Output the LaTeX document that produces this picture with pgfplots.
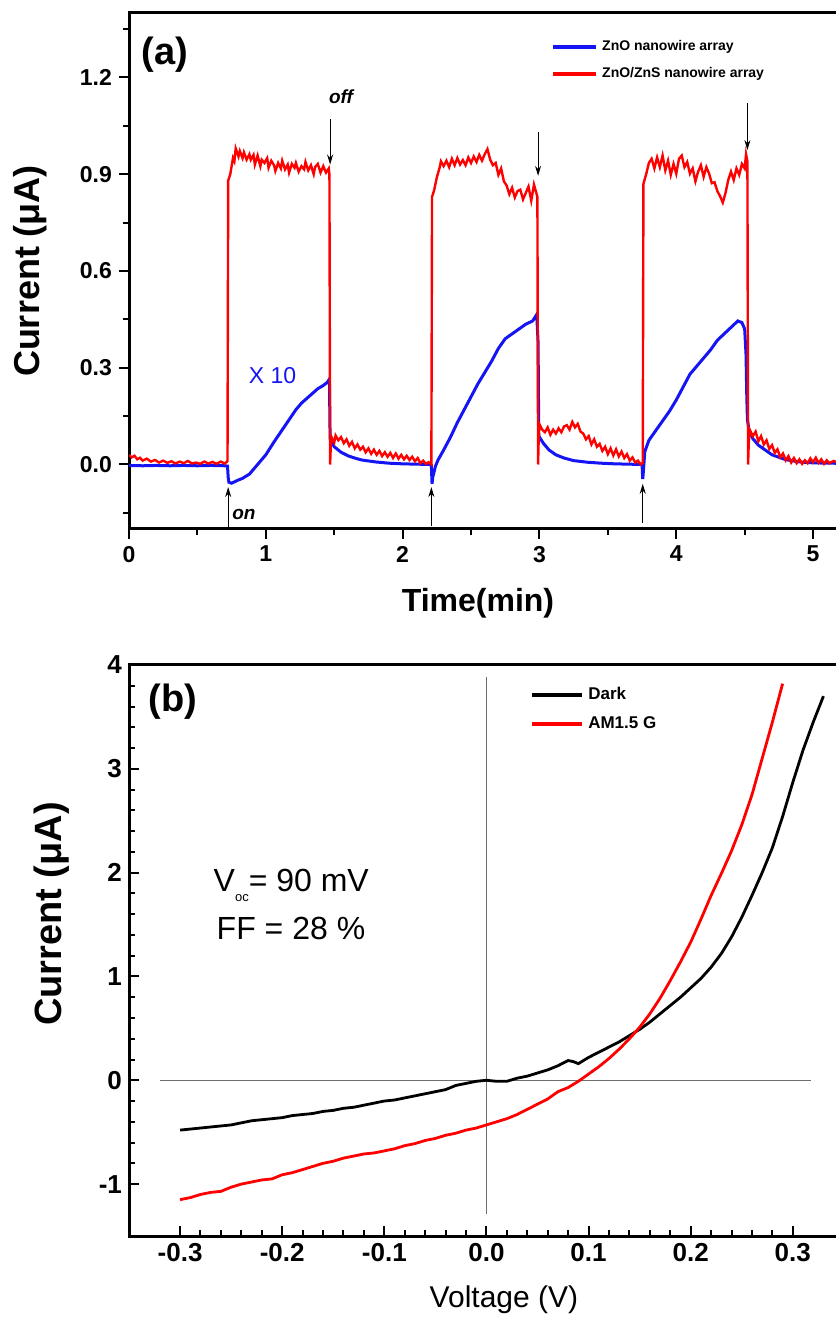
\documentclass[border=0pt]{standalone}
\usepackage{fontspec}
\setmainfont{Liberation Sans}
\usepackage{pgfplots}
\pgfplotsset{compat=1.18}
\usetikzlibrary{arrows.meta}
\definecolor{cred}{RGB}{255,0,0}
\definecolor{cblue}{RGB}{20,20,245}
\definecolor{cgray}{RGB}{110,110,110}

\pgfplotstableread{
t I
0.00 0.030
0.02 0.022
0.04 0.027
0.06 0.016
0.08 0.021
0.10 0.012
0.13 0.018
0.16 0.009
0.19 0.014
0.22 0.006
0.25 0.012
0.28 0.005
0.31 0.010
0.34 0.003
0.37 0.009
0.40 0.004
0.43 0.011
0.46 0.003
0.49 0.006
0.52 0.002
0.55 0.009
0.58 0.003
0.61 0.008
0.64 0.002
0.67 0.009
0.70 0.003
0.72 0.010
0.725 0.880
0.74 0.900
0.76 0.950
0.77 0.940
0.78 0.980
0.80 0.955
0.81 0.972
0.83 0.950
0.84 0.968
0.86 0.945
0.88 0.962
0.89 0.945
0.91 0.960
0.92 0.930
0.94 0.958
0.96 0.925
0.97 0.945
0.99 0.935
1.01 0.950
1.02 0.920
1.04 0.942
1.06 0.928
1.07 0.910
1.09 0.935
1.11 0.918
1.12 0.942
1.14 0.915
1.16 0.930
1.17 0.905
1.19 0.932
1.21 0.920
1.22 0.935
1.24 0.908
1.26 0.925
1.28 0.915
1.29 0.938
1.31 0.912
1.33 0.928
1.35 0.900
1.36 0.922
1.38 0.932
1.40 0.905
1.42 0.925
1.44 0.905
1.46 0.918
1.465 0.900
1.47 0.000
1.475 0.060
1.48 0.085
1.50 0.068
1.51 0.090
1.53 0.075
1.55 0.085
1.57 0.066
1.59 0.078
1.61 0.058
1.63 0.070
1.65 0.050
1.67 0.062
1.69 0.046
1.71 0.055
1.73 0.038
1.75 0.050
1.77 0.033
1.79 0.046
1.81 0.030
1.83 0.042
1.85 0.026
1.87 0.038
1.89 0.024
1.91 0.036
1.93 0.020
1.95 0.034
1.97 0.018
1.99 0.030
2.01 0.016
2.03 0.027
2.05 0.014
2.07 0.024
2.09 0.010
2.11 0.020
2.13 0.004
2.15 0.012
2.17 0.002
2.19 0.007
2.21 0.000
2.215 0.830
2.23 0.850
2.25 0.890
2.27 0.920
2.28 0.940
2.30 0.925
2.32 0.942
2.34 0.922
2.36 0.948
2.38 0.928
2.40 0.950
2.42 0.930
2.44 0.944
2.46 0.928
2.48 0.952
2.50 0.935
2.52 0.955
2.54 0.938
2.56 0.960
2.58 0.942
2.60 0.962
2.62 0.978
2.64 0.945
2.66 0.928
2.68 0.935
2.70 0.898
2.72 0.918
2.74 0.878
2.76 0.865
2.78 0.838
2.80 0.858
2.82 0.828
2.84 0.848
2.86 0.852
2.88 0.822
2.90 0.842
2.92 0.862
2.94 0.818
2.96 0.868
2.985 0.830
2.99 0.000
2.995 0.090
3.00 0.125
3.02 0.108
3.04 0.100
3.06 0.115
3.08 0.092
3.10 0.108
3.12 0.096
3.14 0.112
3.16 0.100
3.18 0.118
3.20 0.122
3.22 0.108
3.24 0.132
3.26 0.115
3.28 0.126
3.30 0.102
3.32 0.096
3.34 0.078
3.36 0.088
3.38 0.062
3.40 0.078
3.42 0.055
3.44 0.064
3.46 0.042
3.48 0.055
3.50 0.032
3.52 0.050
3.54 0.028
3.56 0.047
3.58 0.025
3.60 0.040
3.62 0.020
3.64 0.032
3.66 0.012
3.68 0.022
3.70 0.006
3.72 0.012
3.74 0.000
3.755 0.005
3.76 0.870
3.78 0.900
3.80 0.935
3.82 0.948
3.84 0.918
3.86 0.952
3.88 0.922
3.90 0.958
3.92 0.912
3.94 0.942
3.96 0.898
3.98 0.932
4.00 0.902
4.02 0.948
4.04 0.958
4.06 0.922
4.08 0.938
4.10 0.902
4.12 0.918
4.14 0.878
4.16 0.908
4.18 0.928
4.20 0.892
4.22 0.922
4.24 0.902
4.26 0.872
4.28 0.875
4.30 0.848
4.32 0.832
4.34 0.812
4.36 0.842
4.38 0.882
4.40 0.908
4.42 0.882
4.44 0.918
4.46 0.898
4.48 0.932
4.50 0.918
4.51 0.962
4.52 0.940
4.525 0.000
4.53 0.070
4.54 0.105
4.56 0.088
4.58 0.102
4.60 0.072
4.62 0.088
4.64 0.062
4.66 0.075
4.68 0.048
4.70 0.060
4.72 0.036
4.74 0.047
4.76 0.022
4.78 0.034
4.80 0.013
4.82 0.026
4.84 0.006
4.86 0.020
4.88 0.004
4.90 0.016
4.92 0.002
4.94 0.013
4.96 0.004
4.98 0.019
5.00 0.007
5.02 0.021
5.04 0.005
5.06 0.016
5.08 0.002
5.10 0.013
5.12 0.004
5.15 0.011
5.20 0.003
5.27 0.008
}\redA

\pgfplotstableread{
t I
0.00 -0.003
0.10 -0.004
0.20 -0.003
0.30 -0.004
0.40 -0.003
0.50 -0.004
0.60 -0.003
0.70 -0.004
0.72 -0.005
0.725 -0.040
0.73 -0.055
0.75 -0.058
0.78 -0.052
0.80 -0.048
0.83 -0.043
0.86 -0.035
0.88 -0.030
0.90 -0.020
0.93 -0.005
0.96 0.010
1.00 0.030
1.03 0.050
1.06 0.070
1.10 0.095
1.14 0.120
1.18 0.145
1.22 0.170
1.26 0.190
1.30 0.205
1.34 0.220
1.38 0.235
1.42 0.245
1.45 0.255
1.465 0.265
1.47 0.080
1.48 0.070
1.50 0.055
1.55 0.038
1.60 0.027
1.65 0.020
1.70 0.014
1.80 0.008
1.90 0.004
2.00 0.002
2.10 0.001
2.20 0.000
2.21 -0.003
2.215 -0.060
2.22 -0.040
2.24 -0.005
2.26 0.015
2.30 0.045
2.35 0.085
2.40 0.130
2.45 0.170
2.50 0.210
2.55 0.250
2.60 0.285
2.65 0.320
2.70 0.360
2.75 0.390
2.80 0.405
2.85 0.420
2.90 0.435
2.95 0.445
2.98 0.465
2.99 0.380
2.995 0.090
3.00 0.085
3.03 0.065
3.07 0.045
3.12 0.030
3.18 0.020
3.25 0.012
3.35 0.007
3.45 0.004
3.55 0.002
3.65 0.001
3.75 0.000
3.755 -0.045
3.76 -0.020
3.77 0.040
3.80 0.075
3.85 0.105
3.90 0.135
3.95 0.165
4.00 0.200
4.05 0.240
4.10 0.280
4.15 0.305
4.20 0.330
4.25 0.355
4.30 0.385
4.35 0.405
4.40 0.425
4.45 0.445
4.48 0.440
4.50 0.420
4.51 0.340
4.515 0.220
4.52 0.140
4.53 0.110
4.56 0.080
4.60 0.060
4.65 0.045
4.70 0.030
4.80 0.015
4.90 0.008
5.00 0.005
5.27 0.003
}\blueA

\pgfplotstableread{
V I
-0.300 -0.48
-0.29 -0.47
-0.28 -0.46
-0.27 -0.45
-0.26 -0.44
-0.25 -0.43
-0.24 -0.41
-0.23 -0.39
-0.22 -0.38
-0.21 -0.37
-0.20 -0.36
-0.19 -0.34
-0.18 -0.33
-0.17 -0.32
-0.16 -0.30
-0.15 -0.29
-0.14 -0.27
-0.13 -0.26
-0.12 -0.24
-0.11 -0.22
-0.10 -0.20
-0.09 -0.19
-0.08 -0.17
-0.07 -0.15
-0.06 -0.13
-0.05 -0.11
-0.04 -0.09
-0.03 -0.05
-0.02 -0.03
-0.01 -0.01
0.00 0.00
0.01 -0.01
0.02 -0.01
0.03 0.02
0.04 0.04
0.05 0.07
0.06 0.10
0.07 0.14
0.08 0.19
0.085 0.18
0.09 0.16
0.10 0.22
0.11 0.27
0.12 0.32
0.13 0.37
0.14 0.43
0.15 0.49
0.16 0.56
0.17 0.64
0.18 0.72
0.19 0.80
0.20 0.89
0.21 0.98
0.22 1.09
0.23 1.22
0.24 1.38
0.25 1.57
0.26 1.78
0.27 2.00
0.28 2.24
0.29 2.54
0.30 2.87
0.31 3.18
0.32 3.45
0.33 3.70
}\darkB

\pgfplotstableread{
V I
-0.300 -1.15
-0.29 -1.13
-0.28 -1.10
-0.27 -1.08
-0.26 -1.07
-0.25 -1.03
-0.24 -1.00
-0.23 -0.98
-0.22 -0.96
-0.21 -0.95
-0.20 -0.91
-0.19 -0.89
-0.18 -0.86
-0.17 -0.83
-0.16 -0.80
-0.15 -0.78
-0.14 -0.75
-0.13 -0.73
-0.12 -0.71
-0.11 -0.70
-0.10 -0.68
-0.09 -0.66
-0.08 -0.63
-0.07 -0.61
-0.06 -0.58
-0.05 -0.56
-0.04 -0.53
-0.03 -0.51
-0.02 -0.48
-0.01 -0.46
0.00 -0.43
0.01 -0.40
0.02 -0.37
0.03 -0.33
0.04 -0.28
0.05 -0.23
0.06 -0.18
0.07 -0.11
0.08 -0.07
0.09 -0.01
0.10 0.06
0.11 0.13
0.12 0.21
0.13 0.30
0.14 0.40
0.15 0.51
0.16 0.64
0.17 0.79
0.18 0.96
0.19 1.14
0.20 1.33
0.21 1.55
0.22 1.78
0.23 1.99
0.24 2.21
0.25 2.46
0.26 2.75
0.27 3.10
0.28 3.45
0.29 3.82
}\lightB

\begin{document}
\begin{tikzpicture}
\pgfplotsset{
  common/.style={
    scale only axis,
    separate axis lines,
    axis line style={line width=1.5pt, line cap=rect},
    every tick/.style={black, line width=1pt},
    major tick length=5pt, minor tick length=3pt,
    xtick pos=bottom, ytick pos=left,
    /pgf/number format/assume math mode=true,
    legend cell align=left,
    clip=true,
  }
}
% ---------------- panel (a)
\begin{axis}[common,
  at={(64.5pt,395.5pt)}, anchor=south west,
  width=360.5pt, height=258pt,
  xmin=0, xmax=5.27, ymin=-0.2, ymax=1.4,
  tick align=outside,
  xtick={0,1,2,3,4,5}, minor xtick={0.5,1.5,2.5,3.5,4.5},
  ytick={0,0.3,0.6,0.9,1.2}, minor ytick={-0.15,0.15,0.45,0.75,1.05,1.35},
  ticklabel style={font=\bfseries\fontsize{11.5}{12}\selectfont},
  yticklabel style={/pgf/number format/.cd, fixed, fixed zerofill, precision=1},
  xlabel={Time(min)}, ylabel={Current (μA)},
  xlabel style={font=\bfseries\fontsize{16}{18}\selectfont, at={(axis description cs:0.484,-0.143)}, anchor=center},
  ylabel style={font=\bfseries\fontsize{18}{20}\selectfont, at={(axis description cs:-0.137,0.5)}, anchor=center},
  legend style={draw=none, fill=none, at={(axis description cs:0.585,0.955)}, anchor=north west,
     inner sep=0pt, font=\bfseries\fontsize{7}{8}\selectfont, row sep=3pt},
  legend image code/.code={\draw[#1, line width=2pt] (0pt,0pt) -- (21.5pt,0pt);},
]
\addplot[cblue, line width=1.5pt] table[x=t, y=I] {\blueA};
\addlegendentry{ZnO nanowire array}
\addplot[cred, line width=1.2pt] table[x=t, y=I] {\redA};
\addlegendentry{ZnO/ZnS nanowire array}
% arrows
\draw[-{Stealth[length=5pt,width=3pt]}, line width=0.5pt] (axis cs:1.47,1.07) -- (axis cs:1.47,0.93);
\draw[-{Stealth[length=5pt,width=3pt]}, line width=0.5pt] (axis cs:2.99,1.03) -- (axis cs:2.99,0.895);
\draw[-{Stealth[length=5pt,width=3pt]}, line width=0.5pt] (axis cs:4.52,1.12) -- (axis cs:4.52,0.975);
\draw[-{Stealth[length=5pt,width=3pt]}, line width=0.5pt] (axis cs:0.725,-0.2) -- (axis cs:0.725,-0.07);
\draw[-{Stealth[length=5pt,width=3pt]}, line width=0.5pt] (axis cs:2.21,-0.19) -- (axis cs:2.21,-0.07);
\draw[-{Stealth[length=5pt,width=3pt]}, line width=0.5pt] (axis cs:3.755,-0.18) -- (axis cs:3.755,-0.06);
\node[font=\bfseries\itshape\fontsize{9.5}{10}\selectfont] at (axis cs:1.55,1.14) {off};
\node[font=\bfseries\itshape\fontsize{9.5}{10}\selectfont] at (axis cs:0.84,-0.155) {on};
\node[text=cblue, font=\fontsize{11.5}{12}\selectfont] at (axis cs:1.05,0.277) {X 10};
\node[font=\bfseries\fontsize{19}{20}\selectfont] at (axis description cs:0.05,0.919) {(a)};
\end{axis}
% ---------------- panel (b)
\begin{axis}[common,
  at={(64.5pt,42pt)}, anchor=south west,
  width=360.5pt, height=285.5pt,
  xmin=-0.35, xmax=0.356, ymin=-1.5, ymax=4,
  tick align=inside,
  xtick={-0.3,-0.2,-0.1,0,0.1,0.2,0.3}, minor x tick num=4,
  ytick={-1,0,1,2,3,4}, minor y tick num=4,
  ticklabel style={font=\bfseries\fontsize{13}{14}\selectfont},
  xticklabel style={/pgf/number format/.cd, fixed, fixed zerofill, precision=1},
  xlabel={Voltage (V)}, ylabel={Current (μA)},
  xlabel style={font=\fontsize{15}{17}\selectfont, at={(axis description cs:0.52,-0.112)}, anchor=center},
  ylabel style={font=\bfseries\fontsize{19}{21}\selectfont, at={(axis description cs:-0.107,0.564)}, anchor=center},
  legend style={draw=none, fill=none, at={(axis description cs:0.556,0.968)}, anchor=north west,
     inner sep=0pt, font=\bfseries\fontsize{8.5}{9}\selectfont, row sep=3pt},
  legend image code/.code={\draw[#1, line width=2pt] (0pt,0pt) -- (25pt,0pt);},
]
\addplot[cgray, line width=0.7pt, forget plot] coordinates {(-0.32,0) (0.318,0)};
\addplot[cgray, line width=0.7pt, forget plot] coordinates {(0,-1.29) (0,3.88)};
\addplot[black, line width=1.4pt] table[x=V, y=I] {\darkB};
\addlegendentry{Dark}
\addplot[cred, line width=1.4pt] table[x=V, y=I] {\lightB};
\addlegendentry{AM1.5 G}
\node[anchor=base west, font=\fontsize{16}{18}\selectfont] at (axis cs:-0.274,1.82) {V\raisebox{-5pt}{\fontsize{6.5}{7}\selectfont oc}= 90 mV};
\node[anchor=base west, font=\fontsize{16}{18}\selectfont] at (axis cs:-0.271,1.36) {FF = 28 \%};
\node[font=\bfseries\fontsize{19}{20}\selectfont] at (axis description cs:0.061,0.935) {(b)};
\end{axis}
\pgfresetboundingbox
\useasboundingbox (0,0) rectangle (417.5pt,660pt);
\end{tikzpicture}
\end{document}
